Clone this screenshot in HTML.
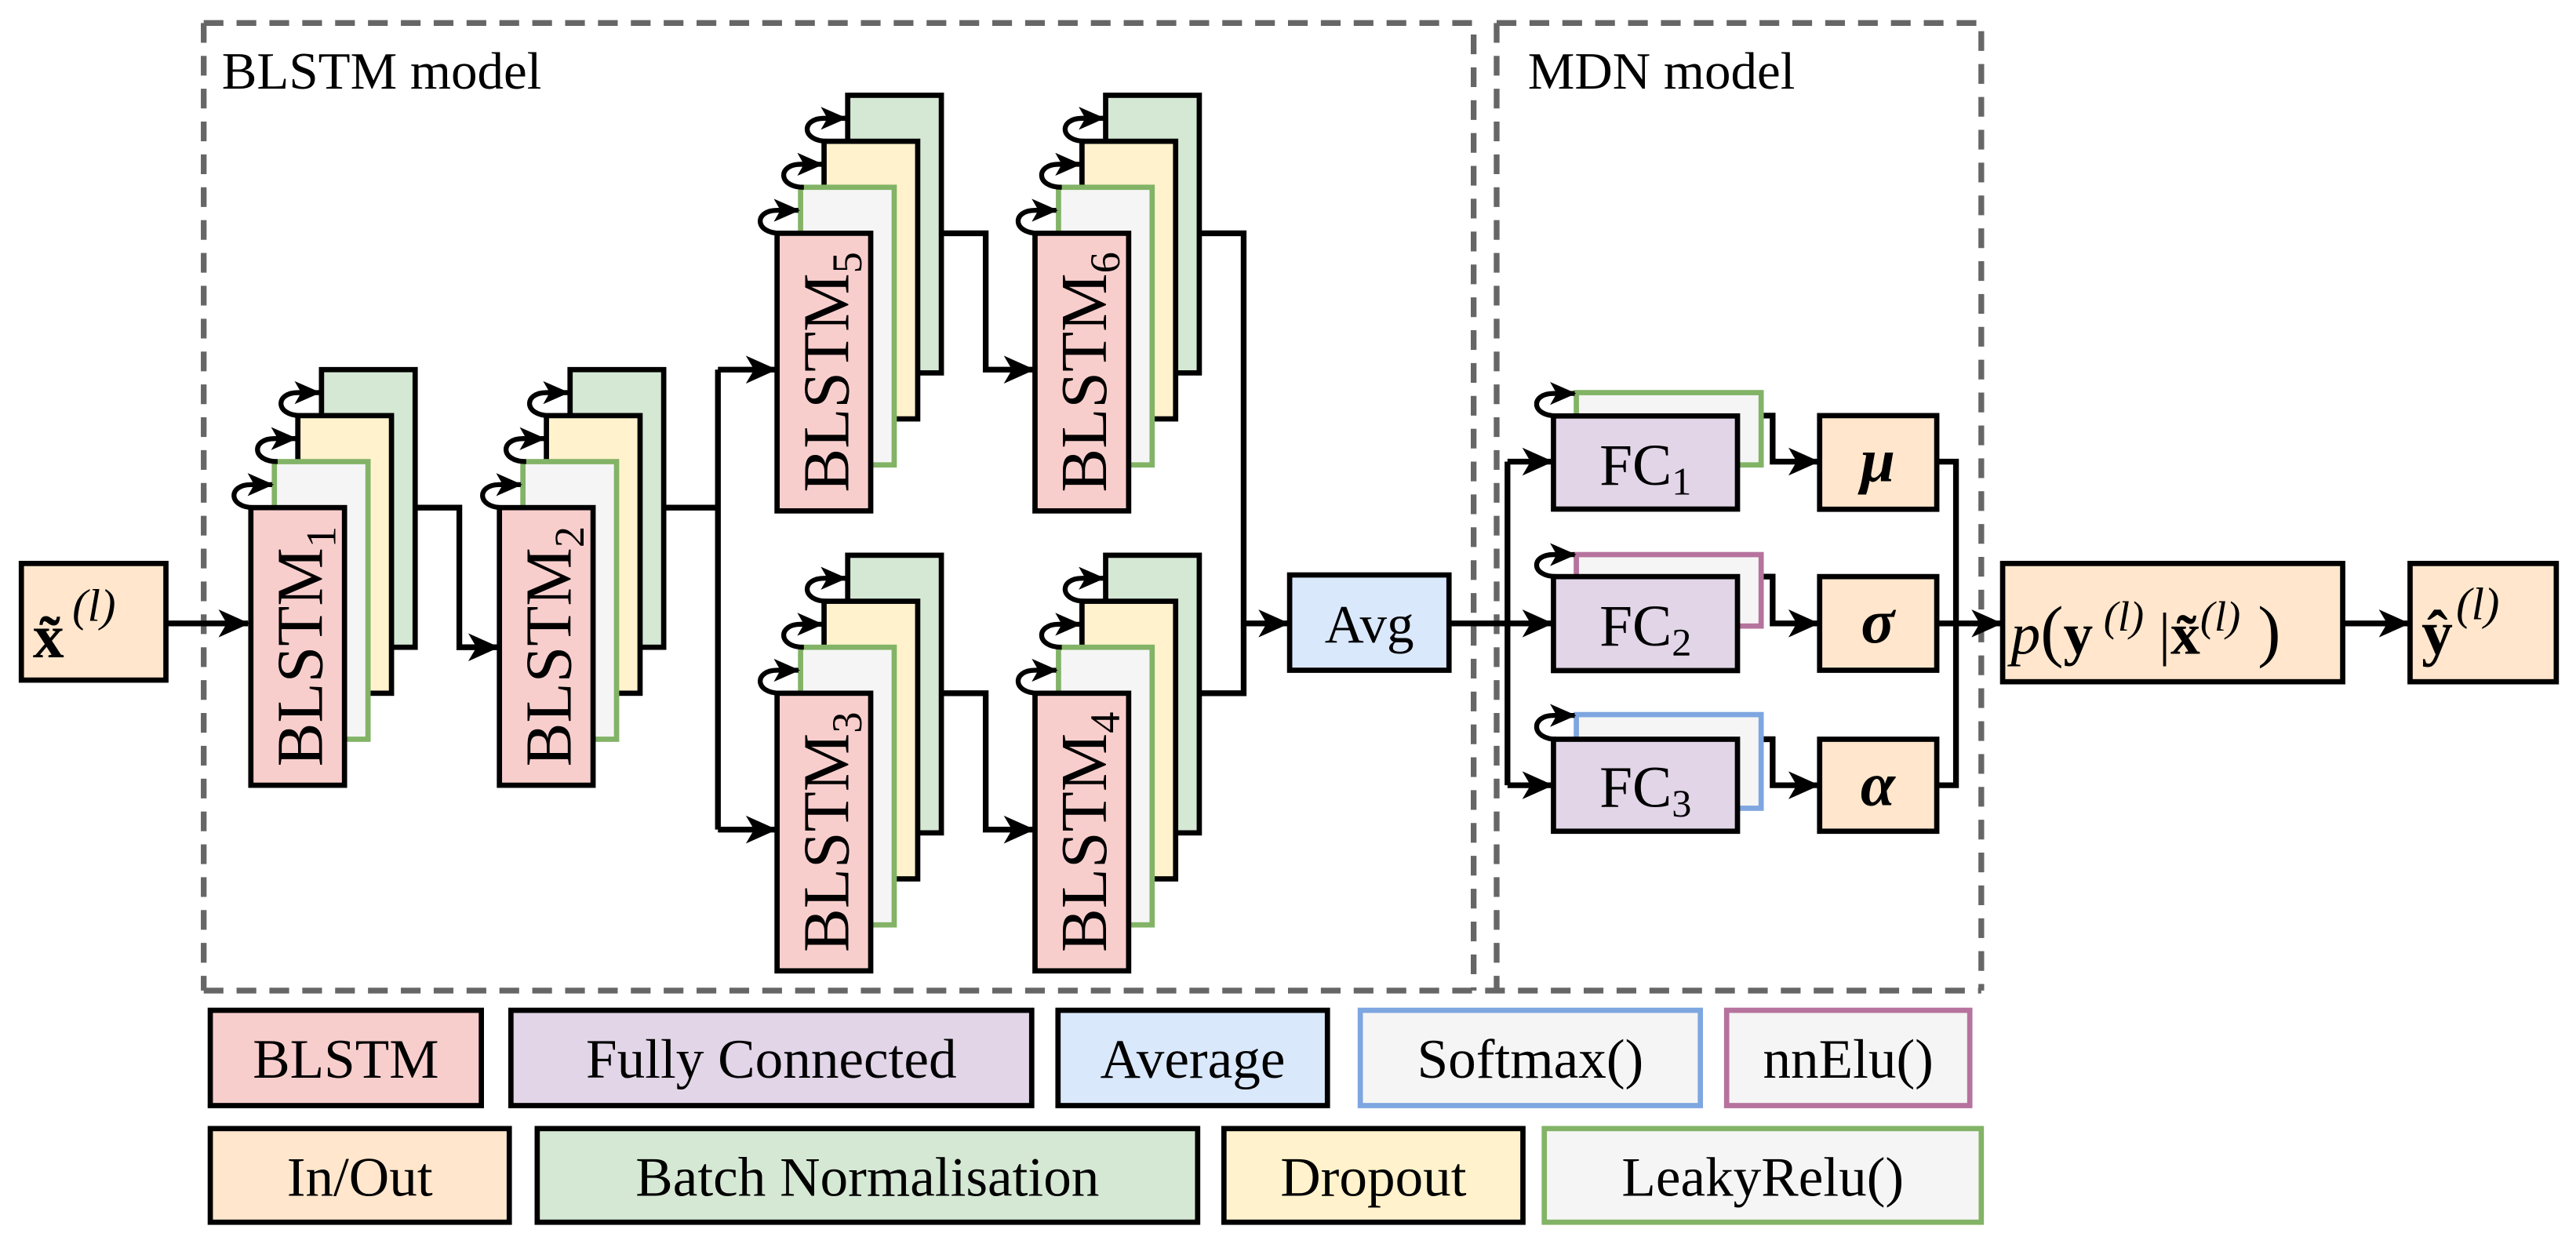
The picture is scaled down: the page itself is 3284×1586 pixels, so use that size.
<!DOCTYPE html>
<html><head><meta charset="utf-8"><style>
html,body{margin:0;padding:0;background:#fff}
svg{display:block}
svg text{font-family:"Liberation Serif","DejaVu Serif","Times New Roman",serif;fill:#000}
</style></head><body>
<svg width="3284" height="1586" viewBox="0 0 1568 757.26" xmlns="http://www.w3.org/2000/svg" font-family="Liberation Serif, DejaVu Serif, serif">
<defs>
<marker id="a" markerUnits="userSpaceOnUse" markerWidth="19" markerHeight="17" viewBox="0 0 19 17" refX="18" refY="8.5" orient="auto"><path d="M0,0 L19,8.5 L0,17 L5,8.5 z" fill="#000"/></marker>
<marker id="b" markerUnits="userSpaceOnUse" markerWidth="16" markerHeight="14" viewBox="0 0 16 14" refX="15" refY="7" orient="auto"><path d="M0,0 L16,7 L0,14 L4,7 z" fill="#000"/></marker>
<g id="stk">
<rect x="43" y="-84" width="57" height="169" fill="#d5e8d4" stroke="#000" stroke-width="3.2"/>
<rect x="28.6" y="-56" width="57" height="169" fill="#fff2cc" stroke="#000" stroke-width="3.2"/>
<rect x="14.3" y="-28" width="57" height="169" fill="#f5f5f5" stroke="#82b366" stroke-width="3.2"/>
<rect x="0" y="0" width="57" height="169" fill="#f8cecc" stroke="#000" stroke-width="3.2"/>
<path d="M2,0 C-14,0 -14,-14 0,-14 L13,-14" fill="none" stroke="#000" stroke-width="3" marker-end="url(#b)"/>
<path d="M16.3,-28 C0.3,-28 0.3,-42 14.3,-42 L27.3,-42" fill="none" stroke="#000" stroke-width="3" marker-end="url(#b)"/>
<path d="M30.6,-56 C14.6,-56 14.6,-70 28.6,-70 L41.6,-70" fill="none" stroke="#000" stroke-width="3" marker-end="url(#b)"/>
</g>
</defs>
<g fill="none" stroke="#666" stroke-width="3.5" stroke-dasharray="12,8">
<path d="M124,14 H897 V603 M124,14 V603"/>
<path d="M911,14 H1206 V603 M911,14 V603"/>
<path d="M124,603 H1206"/>
</g>
<text x="135" y="54" font-size="32">BLSTM model</text>
<text x="930" y="54" font-size="32">MDN model</text>

<g stroke="#000" stroke-width="3.5" fill="none">
<path d="M101,379.5 H151" marker-end="url(#a)"/>
<path d="M252.7,309 H279.6 V394 H303" marker-end="url(#a)"/>
<path d="M404,309 H437 M437,225 V505 M437,225 H472" marker-end="url(#a)"/>
<path d="M437,505 H472" marker-end="url(#a)"/>
<path d="M573,142 H600 V225 H629" marker-end="url(#a)"/>
<path d="M573,422 H600 V505 H629" marker-end="url(#a)"/>
<path d="M730,142 H757 V422 H730 M757,379.5 H784" marker-end="url(#a)"/>
<path d="M882,379.5 H917.6 M917.6,281 V478 M917.6,281 H944.6" marker-end="url(#a)"/>
<path d="M917.6,379.5 H944.6" marker-end="url(#a)"/>
<path d="M917.6,478 H944.6" marker-end="url(#a)"/>
<path d="M1072,253 H1079 V281 H1106.6" marker-end="url(#a)"/>
<path d="M1072,351 H1079 V379.5 H1106.6" marker-end="url(#a)"/>
<path d="M1072,450 H1079 V478 H1106.6" marker-end="url(#a)"/>
<path d="M1179,281 H1190.6 V478 H1179 M1179,379.5 H1218" marker-end="url(#a)"/>
<path d="M1426,379.5 H1466" marker-end="url(#a)"/>
</g>

<rect x="13" y="343" width="88" height="71" fill="#ffe6cc" stroke="#000" stroke-width="3.2"/>
<text x="20" y="400" font-size="38" font-weight="bold">x̃</text><text x="44" y="378" font-size="28" font-style="italic">(l)</text>

<use href="#stk" x="152.7" y="309"/>
<use href="#stk" x="304" y="309"/>
<use href="#stk" x="473" y="142"/>
<use href="#stk" x="630" y="142"/>
<use href="#stk" x="473" y="422"/>
<use href="#stk" x="630" y="422"/>
<g font-size="40">
<text transform="translate(196,393.5) rotate(-90)" text-anchor="middle">BLSTM<tspan font-size="26" dy="8">1</tspan></text>
<text transform="translate(347.3,393.5) rotate(-90)" text-anchor="middle">BLSTM<tspan font-size="26" dy="8">2</tspan></text>
<text transform="translate(516.3,226.5) rotate(-90)" text-anchor="middle">BLSTM<tspan font-size="26" dy="8">5</tspan></text>
<text transform="translate(673.3,226.5) rotate(-90)" text-anchor="middle">BLSTM<tspan font-size="26" dy="8">6</tspan></text>
<text transform="translate(516.3,506.5) rotate(-90)" text-anchor="middle">BLSTM<tspan font-size="26" dy="8">3</tspan></text>
<text transform="translate(673.3,506.5) rotate(-90)" text-anchor="middle">BLSTM<tspan font-size="26" dy="8">4</tspan></text>
</g>

<rect x="785" y="350" width="97" height="58" fill="#dae8fc" stroke="#000" stroke-width="3.2"/>
<text x="833.5" y="391" font-size="33" text-anchor="middle">Avg</text>

<g stroke-width="3.2">
<rect x="959.5" y="239" width="112.5" height="44" fill="#f5f5f5" stroke="#82b366"/>
<rect x="959.5" y="337.6" width="112.5" height="43.5" fill="#f5f5f5" stroke="#b5739d"/>
<rect x="959.5" y="435" width="112.5" height="57" fill="#f5f5f5" stroke="#7ea6e0"/>
<rect x="945.6" y="253.2" width="112" height="56.7" fill="#e1d5e7" stroke="#000"/>
<rect x="945.6" y="351" width="112" height="57.2" fill="#e1d5e7" stroke="#000"/>
<rect x="945.6" y="450" width="112" height="56" fill="#e1d5e7" stroke="#000"/>
</g>
<g stroke="#000" stroke-width="3" fill="none">
<path d="M947.6,253.2 C931.6,253.2 931.6,239.5 945.6,239.5 L958.5,239.5" marker-end="url(#b)"/>
<path d="M947.6,351 C931.6,351 931.6,337.6 945.6,337.6 L958.5,337.6" marker-end="url(#b)"/>
<path d="M947.6,450 C931.6,450 931.6,435.5 945.6,435.5 L958.5,435.5" marker-end="url(#b)"/>
</g>
<g font-size="36" text-anchor="middle">
<text x="1001.6" y="295">FC<tspan font-size="24" dy="6">1</tspan></text>
<text x="1001.6" y="393">FC<tspan font-size="24" dy="6">2</tspan></text>
<text x="1001.6" y="491">FC<tspan font-size="24" dy="6">3</tspan></text>
</g>
<g fill="#ffe6cc" stroke="#000" stroke-width="3.2">
<rect x="1107.6" y="253" width="71.3" height="57"/>
<rect x="1107.6" y="351" width="71.3" height="57"/>
<rect x="1107.6" y="450" width="71.3" height="56"/>
<rect x="1219" y="343" width="207" height="72"/>
<rect x="1467" y="343" width="89" height="72"/>
</g>
<g font-size="38" font-weight="bold" font-style="italic" text-anchor="middle">
<text x="1143" y="293">μ</text>
<text x="1143" y="391">σ</text>
<text x="1143" y="490">α</text>
</g>
<text x="1224" y="398" font-size="36"><tspan font-style="italic">p</tspan><tspan font-size="42">(</tspan><tspan font-weight="bold">y</tspan><tspan font-size="26" dy="-14" font-style="italic"> (l)</tspan><tspan dy="14"> |</tspan><tspan font-weight="bold">x̃</tspan><tspan font-size="26" dy="-14" font-style="italic">(l)</tspan><tspan dy="14" font-size="42"> )</tspan></text>
<text x="1474" y="398" font-size="38" font-weight="bold">ŷ</text><text x="1495" y="377" font-size="28" font-style="italic">(l)</text>

<g stroke-width="3.2">
<rect x="128" y="615" width="165" height="58" fill="#f8cecc" stroke="#000"/>
<rect x="311" y="615" width="317" height="58" fill="#e1d5e7" stroke="#000"/>
<rect x="644" y="615" width="164" height="58" fill="#dae8fc" stroke="#000"/>
<rect x="828" y="615" width="207" height="58" fill="#f5f5f5" stroke="#7ea6e0"/>
<rect x="1051" y="615" width="148" height="58" fill="#f5f5f5" stroke="#b5739d"/>
<rect x="128" y="687" width="182" height="57" fill="#ffe6cc" stroke="#000"/>
<rect x="327" y="687" width="402" height="57" fill="#d5e8d4" stroke="#000"/>
<rect x="745" y="687" width="182" height="57" fill="#fff2cc" stroke="#000"/>
<rect x="940" y="687" width="266" height="57" fill="#f5f5f5" stroke="#82b366"/>
</g>
<g font-size="34" text-anchor="middle">
<text x="210.5" y="656">BLSTM</text>
<text x="469.5" y="656">Fully Connected</text>
<text x="726" y="656">Average</text>
<text x="931.5" y="656" fill="#333">Softmax()</text>
<text x="1125" y="656" fill="#333">nnElu()</text>
<text x="219" y="728">In/Out</text>
<text x="528" y="728">Batch Normalisation</text>
<text x="836" y="728">Dropout</text>
<text x="1073" y="728" fill="#333">LeakyRelu()</text>
</g>
</svg>
</body></html>
